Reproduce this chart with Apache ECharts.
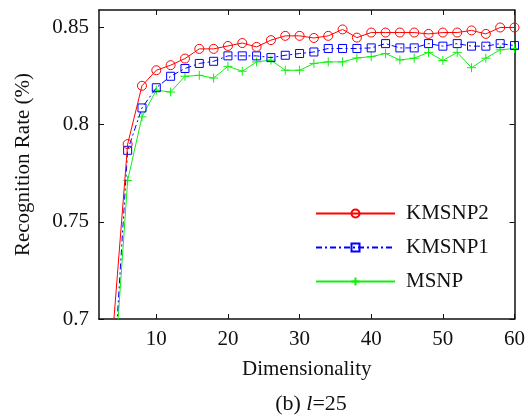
<!DOCTYPE html>
<html>
<head>
<meta charset="utf-8">
<script src="https://cdn.jsdelivr.net/npm/echarts@6/dist/echarts.min.js"></script>
<style>html,body{margin:0;padding:0;background:#fff}#c{width:528px;height:418px}</style>
</head>
<body>
<div id="c"></div>
<script>
var dims = [4,6,8,10,12,14,16,18,20,22,24,26,28,30,32,34,36,38,40,42,44,46,48,50,52,54,56,58,60];
var kmsnp2 = [0.696,0.790,0.820,0.828,0.8306,0.834,0.839,0.839,0.8405,0.842,0.840,0.8435,0.8457,0.8457,0.8446,0.8457,0.849,0.8448,0.8474,0.8474,0.8474,0.8474,0.8467,0.8474,0.8474,0.8485,0.8467,0.850,0.850];
var kmsnp1 = [0.668,0.7868,0.8086,0.819,0.8249,0.8289,0.8315,0.8326,0.8354,0.8354,0.8354,0.8345,0.8357,0.8366,0.8374,0.8392,0.8392,0.8392,0.8395,0.8417,0.8395,0.8395,0.8417,0.8404,0.8417,0.8404,0.8404,0.8417,0.8407];
var msnp = [0.664,0.7713,0.804,0.8177,0.8168,0.8249,0.8254,0.824,0.830,0.8275,0.8323,0.8332,0.828,0.828,0.8315,0.8323,0.8323,0.8343,0.835,0.8366,0.8333,0.8342,0.8372,0.833,0.8372,0.8293,0.8342,0.8385,0.8392];
var xTicks = [10,20,30,40,50,60];
var yTicks = [0.7,0.75,0.8,0.85];
var seriesNames = ['KMSNP2','KMSNP1','MSNP'];

function pairs(arr){ return dims.map(function(d,i){ return [d, arr[i]]; }); }
var FONT = 'Liberation Serif';
var FS = 21;
var axisLine = {show:true, onZero:false, lineStyle:{color:'#111', width:1.5}};
function xAx(pos, showLabel){
  return {type:'value', position:pos, min:2, max:60,
    axisLine:axisLine, splitLine:{show:false},
    axisTick:{show:true, inside:true, length:5, customValues:xTicks, lineStyle:{color:'#111', width:1}},
    axisLabel:{show:showLabel, customValues:xTicks, margin:10, fontFamily:FONT, fontSize:FS, color:'#111'},
    name: showLabel ? 'Dimensionality' : '', nameLocation:'middle', nameGap:40,
    nameTextStyle:{fontFamily:FONT, fontSize:FS, color:'#111'}};
}
function yAx(pos, showLabel){
  return {type:'value', position:pos, min:0.7, max:0.859,
    axisLine:axisLine, splitLine:{show:false},
    axisTick:{show:true, inside:true, length:5, customValues:yTicks, lineStyle:{color:'#111', width:1}},
    axisLabel:{show:showLabel, customValues:yTicks, margin:10, fontFamily:FONT, fontSize:FS, color:'#111',
      formatter:function(v){ return String(Math.round(v*100)/100); }},
    name: showLabel ? 'Recognition Rate (%)' : '', nameLocation:'middle', nameGap:65,
    nameTextStyle:{fontFamily:FONT, fontSize:FS, color:'#111'}};
}
var plus = 'path://M0,5L10,5M5,0L5,10';
var chart = echarts.init(document.getElementById('c'), null, {renderer:'canvas'});
chart.setOption({
  animation:false,
  grid:{left:99, right:12, top:10, bottom:99, containLabel:false},
  title:{text:'(b) {it|l}=25', left:311, top:393, textAlign:'center', padding:0,
    textStyle:{fontFamily:FONT, fontSize:22, fontWeight:'normal', color:'#111',
      rich:{it:{fontFamily:FONT, fontSize:22, fontStyle:'italic', color:'#111'}}}},
  legend:{orient:'vertical', left:315, top:203, padding:0, itemWidth:79, itemHeight:10, itemGap:13,
    data:seriesNames,
    textStyle:{fontFamily:FONT, fontSize:FS, color:'#111', lineHeight:20, padding:[0,0,0,6]}},
  xAxis:[xAx('bottom', true), xAx('top', false)],
  yAxis:[yAx('left', true), yAx('right', false)],
  series:[
    {name:seriesNames[0], type:'line', data:pairs(kmsnp2), clip:true, showAllSymbol:true,
      symbol:'circle', symbolSize:9,
      itemStyle:{color:'rgba(255,255,255,0)', borderColor:'#ff0000', borderWidth:1},
      lineStyle:{color:'#ff0000', width:1}, z:4},
    {name:seriesNames[1], type:'line', data:pairs(kmsnp1), clip:true, showAllSymbol:true,
      symbol:'rect', symbolSize:8,
      itemStyle:{color:'rgba(255,255,255,0)', borderColor:'#0000ff', borderWidth:1},
      lineStyle:{color:'#0000ff', width:1, type:[6,3,2,3]}, z:3},
    {name:seriesNames[2], type:'line', data:pairs(msnp), clip:true, showAllSymbol:true,
      symbol:plus, symbolSize:9,
      itemStyle:{color:'rgba(255,255,255,0)', borderColor:'#10f010', borderWidth:1},
      lineStyle:{color:'#10f010', width:1}, z:2}
  ]
});
</script>
</body>
</html>
